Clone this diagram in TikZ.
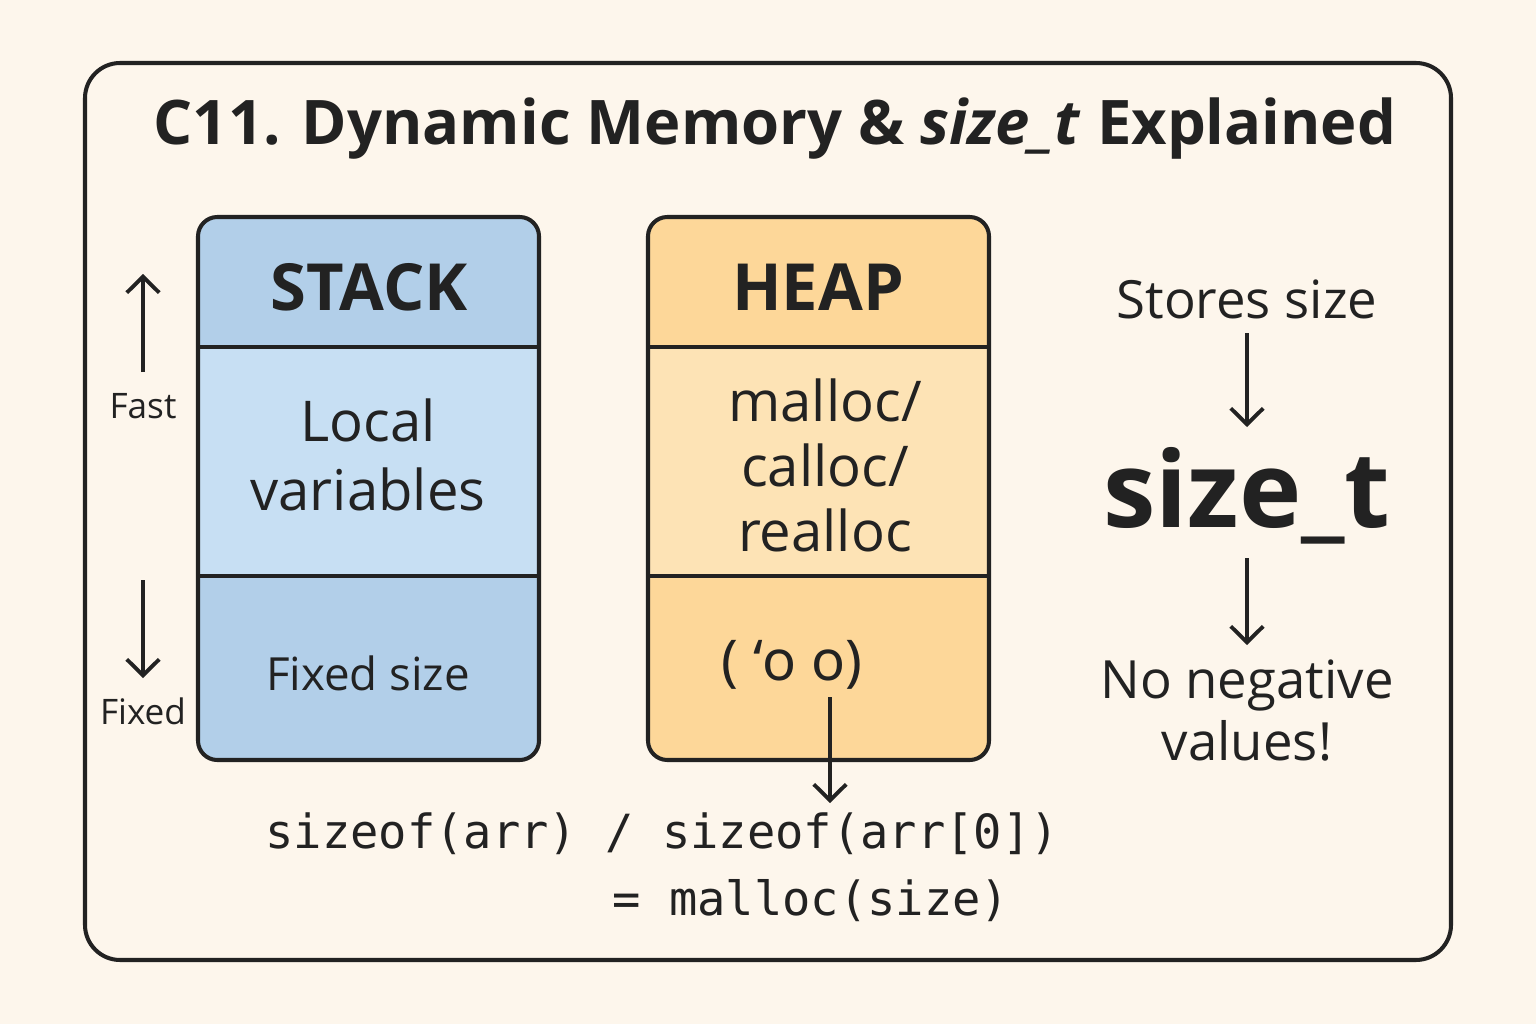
\documentclass[tikz,border=0pt]{standalone}
\usepackage{fontspec}
\setmainfont{Open Sans}
\setmonofont{DejaVu Sans Mono}
\newfontfamily\facefont{Noto Sans}
\usetikzlibrary{arrows.meta,positioning}

\definecolor{bgcream}{RGB}{253,246,236}
\definecolor{inkdark}{RGB}{34,34,34}
\definecolor{stackdeep}{RGB}{178,207,233}
\definecolor{stacklight}{RGB}{199,223,243}
\definecolor{heapdeep}{RGB}{253,215,153}
\definecolor{heaplight}{RGB}{253,227,181}

\tikzset{
  boxline/.style={draw=inkdark, line width=2.3pt},
  arr/.style={draw=inkdark, line width=2.2pt, -{Straight Barb[length=3.2mm,width=6.5mm,line width=2.2pt]}},
  headtxt/.style={font=\fontsize{37}{44}\selectfont\bfseries, text=inkdark, inner sep=0pt},
  bodytxt/.style={font=\fontsize{32}{39}\selectfont, text=inkdark, inner sep=0pt, align=center},
  sidetxt/.style={font=\fontsize{20}{24}\selectfont, text=inkdark, inner sep=0pt},
  righttxt/.style={font=\fontsize{30}{35}\selectfont, text=inkdark, inner sep=0pt, align=center},
  codetxt/.style={font=\fontsize{26.8}{30}\selectfont\ttfamily, text=inkdark, inner sep=0pt, anchor=base west}
}

\begin{document}
\begin{tikzpicture}[x=0.02cm, y=-0.02cm]
  % background and frame
  \fill[bgcream] (0,0) rectangle (1536,1024);
  \useasboundingbox (0,0) rectangle (1536,1024);
  \draw[boxline, rounded corners=20pt] (85,63) rectangle (1451,960);

  % title
  \node[font=\fontsize{35}{42}\selectfont\bfseries, text=inkdark, inner sep=0pt, anchor=base] (title) at (775,145)
    {C11. Dynamic Memory \& \textit{size\_t} Explained};

  % stack column
  \begin{scope}
    \clip[rounded corners=11pt] (198,217) rectangle (539,760);
    \fill[stackdeep] (198,217) rectangle (539,347);
    \fill[stacklight] (198,347) rectangle (539,576);
    \fill[stackdeep] (198,576) rectangle (539,760);
  \end{scope}
  \draw[boxline] (198,347) -- (539,347);
  \draw[boxline] (198,576) -- (539,576);
  \draw[boxline, rounded corners=11pt] (198,217) rectangle (539,760);

  \node[headtxt, anchor=base] (stackhd) at (369,310) {STACK};
  \node[bodytxt] (locvars) at (368,455) {Local\\variables};
  \node[bodytxt, font=\fontsize{26}{31}\selectfont, anchor=base] (fixsz) at (368,690) {Fixed size};

  % heap column
  \begin{scope}
    \clip[rounded corners=11pt] (648,217) rectangle (989,760);
    \fill[heapdeep] (648,217) rectangle (989,347);
    \fill[heaplight] (648,347) rectangle (989,576);
    \fill[heapdeep] (648,576) rectangle (989,760);
  \end{scope}
  \draw[boxline] (648,347) -- (989,347);
  \draw[boxline] (648,576) -- (989,576);
  \draw[boxline, rounded corners=11pt] (648,217) rectangle (989,760);

  \node[headtxt, anchor=base] (heaphd) at (818,310) {HEAP};
  \node[bodytxt, font=\fontsize{32}{37}\selectfont] (allocs) at (825,465) {malloc/\\calloc/\\realloc};
  \node[bodytxt, font=\fontsize{32}{39}\selectfont\facefont, anchor=base] (face) at (792,680) {( ʻo o)};

  % speed hints on the left
  \node[sidetxt, anchor=base] (fast) at (143,418) {Fast};
  \node[sidetxt, anchor=base] (fixed) at (143,724) {Fixed};
  \coordinate (fastlow) at (143,372);
  \coordinate (fasttop) at (143,274);
  \coordinate (fixhigh) at (143,580);
  \coordinate (fixlow) at (143,678);
  \draw[arr] (fastlow) -- (fasttop);
  \draw[arr] (fixhigh) -- (fixlow);

  % size_t column
  \node[righttxt, anchor=base] (stores) at (1247,318) {Stores size};
  \node[font=\fontsize{60}{70}\selectfont\bfseries, text=inkdark, inner sep=0pt, anchor=base] (sizet) at (1247,527) {size\_t};
  \node[righttxt, anchor=base] (noneg) at (1247,760) {No negative\\values!};
  \coordinate (storeslow) at (1247,333);
  \coordinate (sizettop) at (1247,427);
  \coordinate (sizetlow) at (1247,558);
  \coordinate (nonegtop) at (1247,645);
  \draw[arr] (storeslow) -- (sizettop);
  \draw[arr] (sizetlow) -- (nonegtop);

  % code lines under the columns
  \node[codetxt] (code1) at (265,848) {sizeof(arr) / sizeof(arr[0])};
  \node[codetxt] (code2) at (612,915) {= malloc(size)};
  \coordinate (facetail) at (830,697);
  \coordinate (codetop) at (830,803);
  \draw[arr] (facetail) -- (codetop);
\end{tikzpicture}
\end{document}
